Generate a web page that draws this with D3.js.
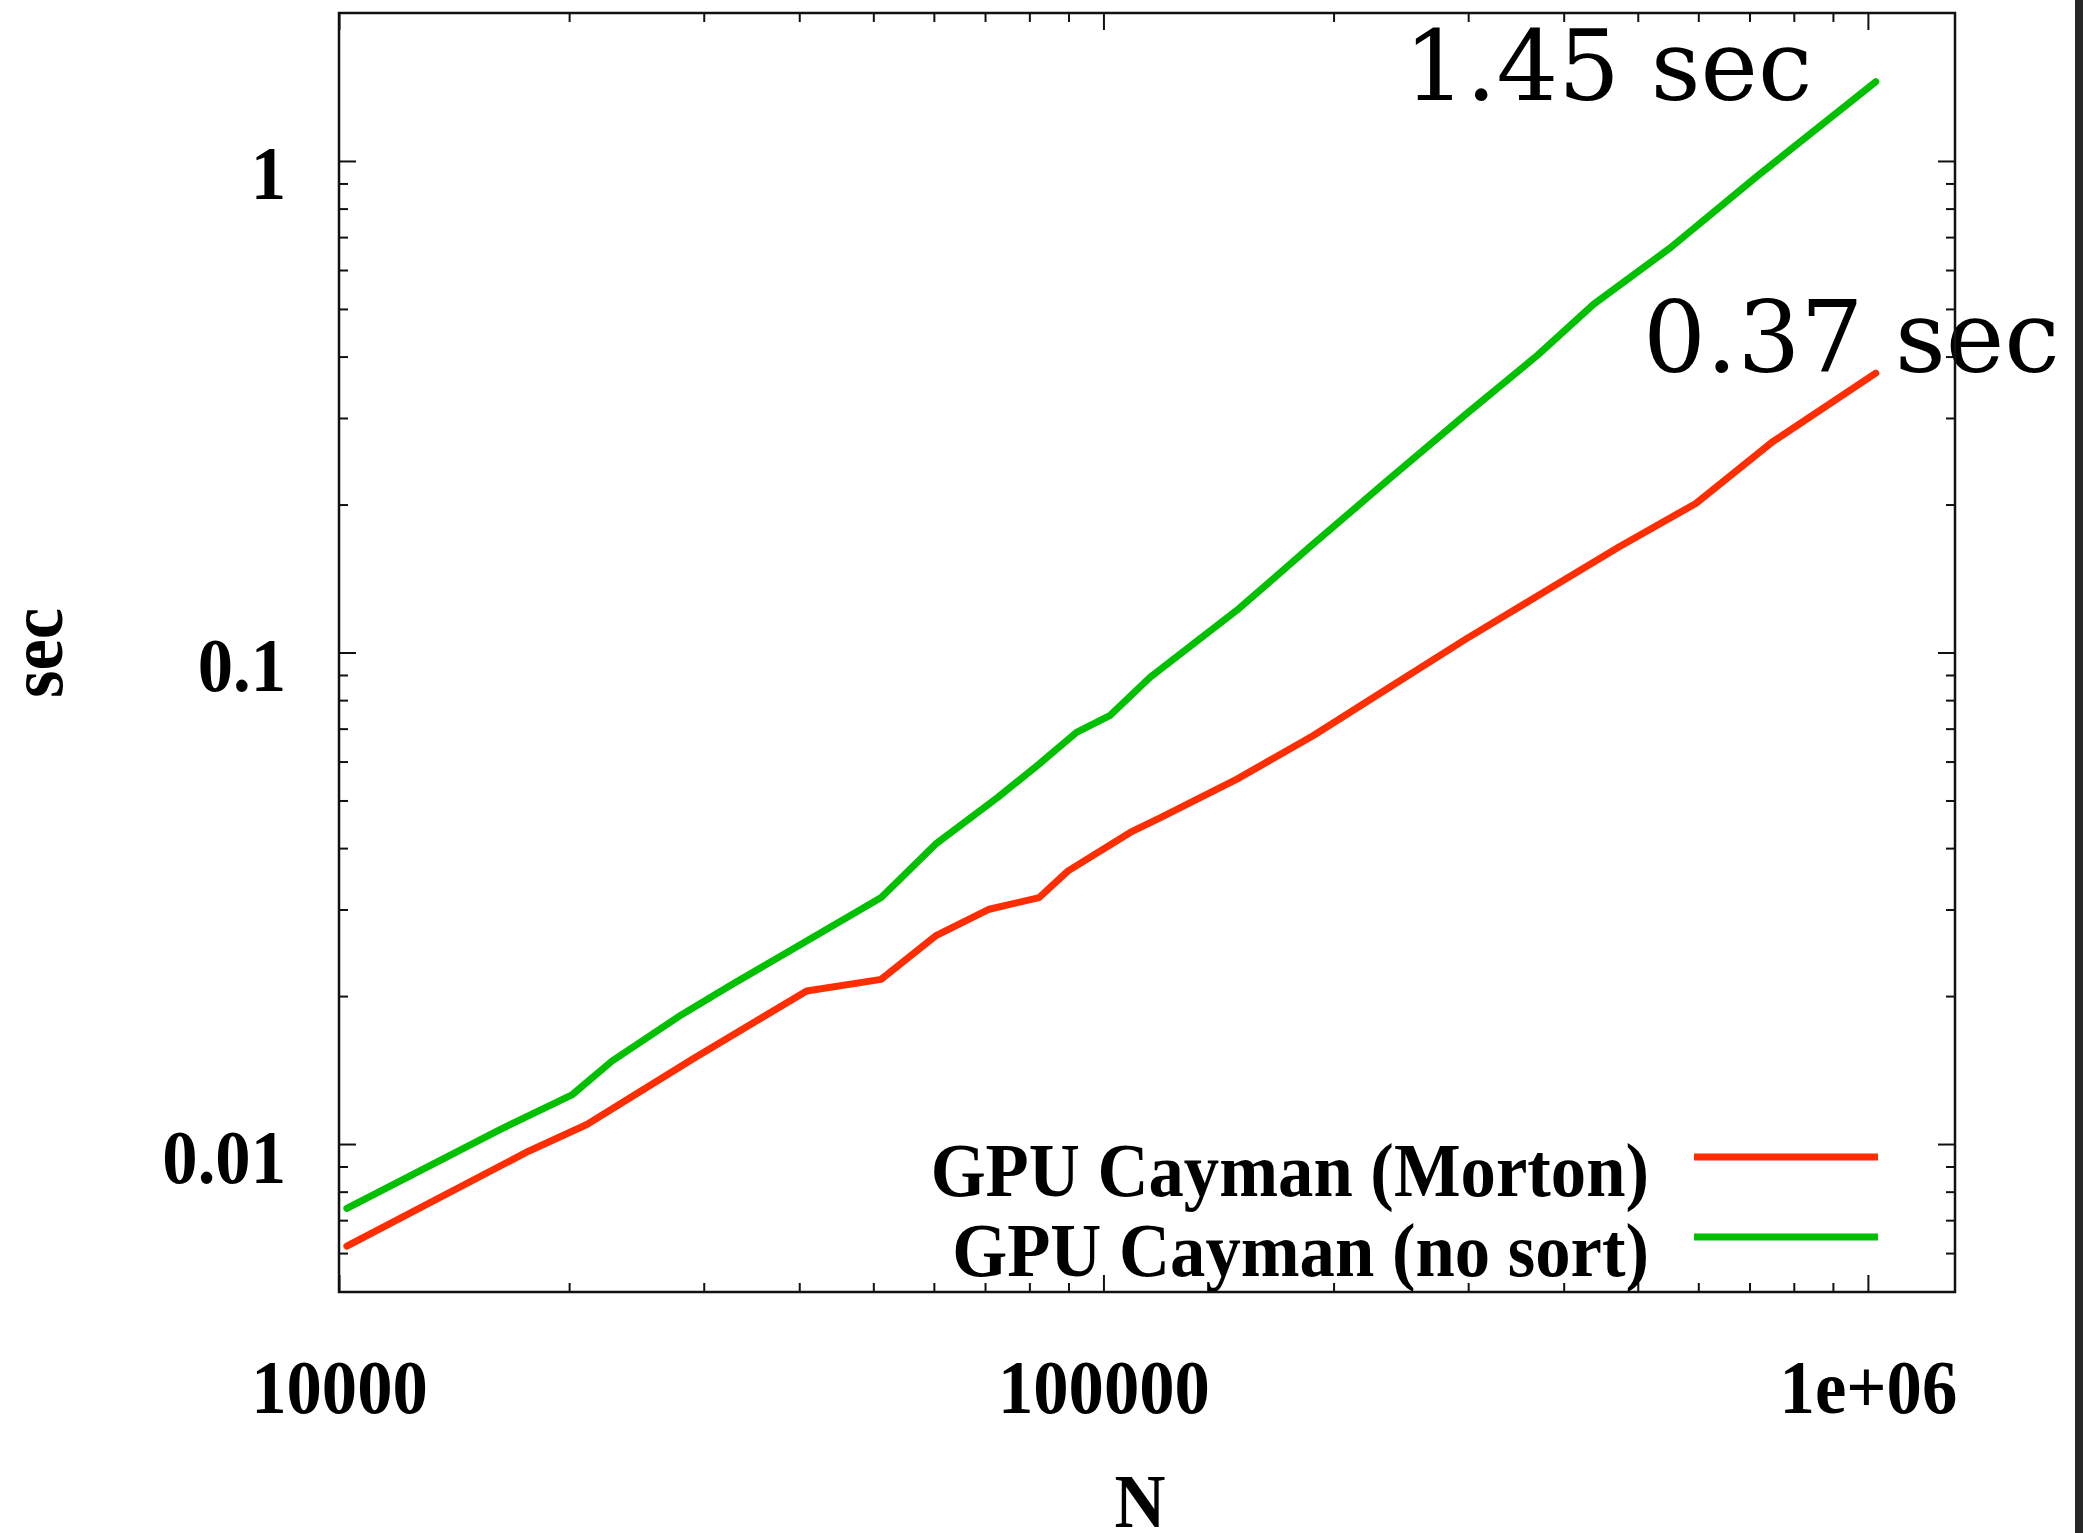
<!DOCTYPE html>
<html>
<head>
<meta charset="utf-8">
<script src="https://cdn.jsdelivr.net/npm/d3@7"></script>
<style>
  html, body { margin: 0; padding: 0; background: #ffffff; }
  svg { display: block; }
</style>
</head>
<body>
<script>
// Problem size N (number of bodies) and run time in seconds for each kernel variant
const sizeMorton = [10240, 17700, 21100, 29200, 40900, 51200, 60300, 70900, 82400, 89900,
                    108400, 118600, 149300, 188000, 236800, 298200, 375600, 472900, 595500, 749800, 1024000];
const timeMorton = [0.0062, 0.00967, 0.01096, 0.01498, 0.02048, 0.02163, 0.02651, 0.03004, 0.03173, 0.03595,
                    0.04304, 0.0461, 0.0552, 0.0677, 0.0850, 0.1066, 0.1323, 0.1641, 0.2010, 0.2681, 0.37];

const sizeNoSort = [10240, 16240, 20200, 22750, 28100, 32700, 40900, 51200, 60300, 72700, 82400,
                    92200, 101900, 115100, 149300, 188000, 233200, 298200, 369800, 437900, 551300, 716200, 1024000];
const timeNoSort = [0.0074, 0.0107, 0.01261, 0.01475, 0.01835, 0.02113, 0.02589, 0.03173, 0.04075, 0.05071, 0.05932,
                    0.06879, 0.07437, 0.08907, 0.1217, 0.1661, 0.2213, 0.3057, 0.4027, 0.5115, 0.6655, 0.931, 1.45];

const seriesNames = ["GPU Cayman (Morton)", "GPU Cayman (no sort)"];
const seriesColors = ["#ff2d00", "#00c000"];

// Axis ticks and their labels
const xMajor = [1e4, 1e5, 1e6];
const xTickLabels = ["10000", "100000", "1e+06"];
const xMinor = [2e4, 3e4, 4e4, 5e4, 6e4, 7e4, 8e4, 9e4, 2e5, 3e5, 4e5, 5e5, 6e5, 7e5, 8e5, 9e5];
const yMajor = [0.01, 0.1, 1];
const yTickLabels = ["0.01", "0.1", "1"];
const yMinor = [0.006, 0.007, 0.008, 0.009, 0.02, 0.03, 0.04, 0.05, 0.06, 0.07, 0.08, 0.09,
                0.2, 0.3, 0.4, 0.5, 0.6, 0.7, 0.8, 0.9];

// Callouts for the largest run of each series
const calloutText = ["1.45 sec", "0.37 sec"];

const W = 2083, H = 1533;
const box = { left: 339, right: 1955, top: 13, bottom: 1292 };
const serif = "'Liberation Serif', 'Times New Roman', Times, serif";
const squeeze = 0.93;   // labels are set slightly condensed
const labelSize = 76;

const svg = d3.select("body").append("svg").attr("width", W).attr("height", H);
svg.append("rect").attr("width", W).attr("height", H).attr("fill", "#ffffff");

const x = d3.scaleLog().domain([1e4, 1.3e6]).range([box.left, box.right]);
const y = d3.scaleLog().domain([0.005, 2]).range([box.bottom, box.top]);

// Tick marks on all four sides, pointing into the plot
function ticks(axisFn, pos, values, len) {
  const g = svg.append("g").attr("transform", pos)
    .call(axisFn.tickValues(values).tickSize(-len).tickSizeOuter(0).tickFormat(""));
  g.select(".domain").remove();
  g.selectAll("line").attr("stroke", "#111").attr("stroke-width", 2);
  return g;
}
ticks(d3.axisBottom(x), `translate(0,${box.bottom})`, xMinor, 9);
ticks(d3.axisTop(x), `translate(0,${box.top})`, xMinor, 9);
ticks(d3.axisLeft(y), `translate(${box.left},0)`, yMinor, 9);
ticks(d3.axisRight(y), `translate(${box.right},0)`, yMinor, 9);
ticks(d3.axisTop(x), `translate(0,${box.top})`, xMajor, 17);
ticks(d3.axisRight(y), `translate(${box.right},0)`, yMajor, 17);

// Labelled major axes
const gx = svg.append("g").attr("transform", `translate(0,${box.bottom})`)
  .call(d3.axisBottom(x).tickValues(xMajor).tickSize(-17).tickSizeOuter(0)
        .tickFormat((d, i) => xTickLabels[i]));
gx.select(".domain").remove();
gx.selectAll("line").attr("stroke", "#111").attr("stroke-width", 2);
gx.selectAll("text")
  .attr("y", 0).attr("dy", null)
  .attr("transform", `translate(0,121) scale(${squeeze},1)`)
  .attr("fill", "#000").attr("font-family", serif).attr("font-weight", "bold")
  .attr("font-size", labelSize).attr("text-anchor", "middle");

const gy = svg.append("g").attr("transform", `translate(${box.left},0)`)
  .call(d3.axisLeft(y).tickValues(yMajor).tickSize(-17).tickSizeOuter(0)
        .tickFormat((d, i) => yTickLabels[i]));
gy.select(".domain").remove();
gy.selectAll("line").attr("stroke", "#111").attr("stroke-width", 2);
gy.selectAll("text")
  .attr("x", 0).attr("dy", null)
  .attr("transform", `translate(-53,38) scale(${squeeze},1)`)
  .attr("fill", "#000").attr("font-family", serif).attr("font-weight", "bold")
  .attr("font-size", labelSize).attr("text-anchor", "end");

// Axis titles
svg.append("text")
  .attr("transform", `translate(62,653) rotate(-90) scale(${squeeze},1)`)
  .attr("text-anchor", "middle")
  .attr("font-family", serif).attr("font-weight", "bold").attr("font-size", labelSize)
  .text("sec");
svg.append("text")
  .attr("transform", `translate(1140,1527) scale(${squeeze},1)`)
  .attr("text-anchor", "middle")
  .attr("font-family", serif).attr("font-weight", "bold").attr("font-size", labelSize)
  .text("N");

// Data curves
const line = d3.line().x(d => x(d[0])).y(d => y(d[1]));
const series = [
  d3.zip(sizeMorton, timeMorton),
  d3.zip(sizeNoSort, timeNoSort)
];
series.forEach((pts, i) => {
  svg.append("path")
    .datum(pts)
    .attr("d", line)
    .attr("fill", "none")
    .attr("stroke", seriesColors[i])
    .attr("stroke-width", 7)
    .attr("stroke-linejoin", "round")
    .attr("stroke-linecap", "round");
});

// Legend, bottom right inside the frame
const legendRows = [1157, 1237];
seriesNames.forEach((name, i) => {
  svg.append("text")
    .attr("transform", `translate(1649,${legendRows[i] + 39}) scale(${squeeze},1)`)
    .attr("text-anchor", "end")
    .attr("font-family", serif).attr("font-weight", "bold").attr("font-size", labelSize)
    .text(name);
  svg.append("line")
    .attr("x1", 1694).attr("x2", 1878)
    .attr("y1", legendRows[i]).attr("y2", legendRows[i])
    .attr("stroke", seriesColors[i]).attr("stroke-width", 7);
});

// Callouts at the end of each curve
const calloutFont = "'DejaVu Serif', serif";
const lastNoSort = timeNoSort[timeNoSort.length - 1];
const lastMorton = timeMorton[timeMorton.length - 1];
svg.append("text")
  .attr("x", 1404).attr("y", y(lastNoSort) + 18)
  .attr("font-family", calloutFont).attr("font-size", 97).attr("fill", "#000")
  .text(calloutText[0]);
svg.append("text")
  .attr("x", 1643).attr("y", y(lastMorton) - 1)
  .attr("font-family", calloutFont).attr("font-size", 99).attr("fill", "#000")
  .text(calloutText[1]);

// Plot frame
svg.append("rect")
  .attr("x", box.left).attr("y", box.top)
  .attr("width", box.right - box.left).attr("height", box.bottom - box.top)
  .attr("fill", "none").attr("stroke", "#111").attr("stroke-width", 2.5);

// Dark strip along the right edge of the page
svg.append("rect").attr("x", 2075).attr("y", 0).attr("width", W - 2075).attr("height", H)
  .attr("fill", "#262626");
</script>
</body>
</html>
